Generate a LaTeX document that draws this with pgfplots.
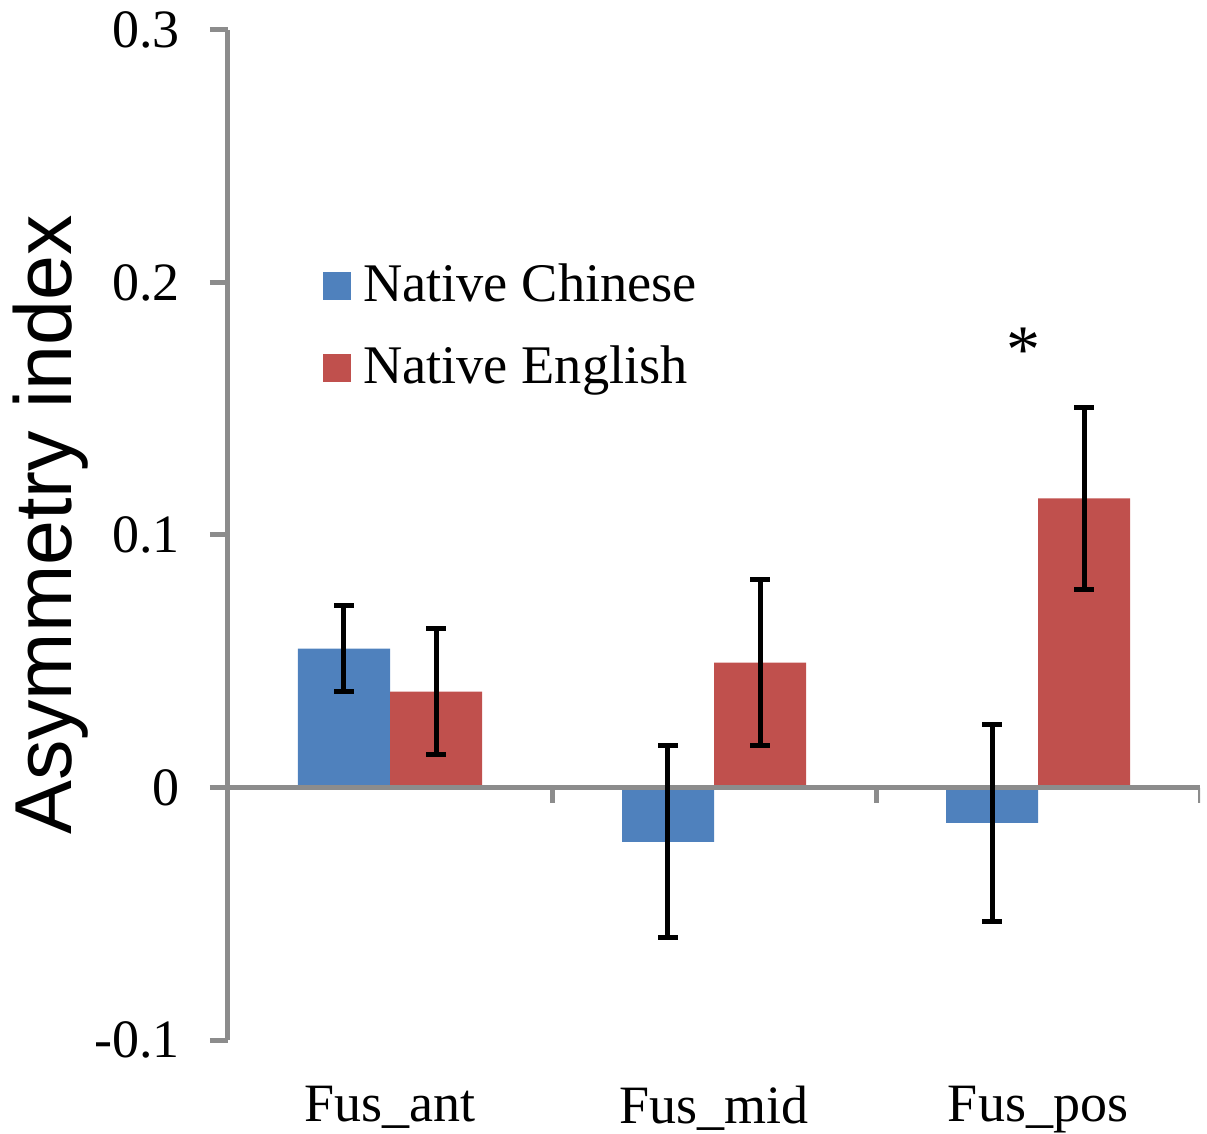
\documentclass[border=0pt]{standalone}
\usepackage{pgfplots}
\pgfplotsset{compat=1.18}
\usepackage{pgfplotstable}
\usepackage{fontspec}
\setmainfont{Liberation Serif}
\newfontfamily\arialfont{Liberation Sans}

\definecolor{cnblue}{RGB}{79,129,189}
\definecolor{enred}{RGB}{192,80,77}
\definecolor{axgray}{RGB}{140,140,140}

% asymmetry index per fusiform region, with error half-widths
\pgfplotstableread{
x   cn      cnerr   en      enerr
0   0.0550  0.0170  0.0380  0.0250
1  -0.0215  0.0380  0.0495  0.0330
2  -0.0140  0.0390  0.1145  0.0360
}\asym

\pgfplotsset{
  errstyle/.style={draw=none, mark=none, forget plot,
    error bars/.cd, y dir=both, y explicit,
    error bar style={black, line width=1.25pt, solid},
    error mark options={rotate=90, mark size=2.4pt, line width=1.25pt, black, solid}},
}

\begin{document}
\begin{tikzpicture}
\begin{axis}[
  name=ax,
  scale only axis, width=243pt, height=252.5pt,
  xmin=-0.5, xmax=2.5, ymin=-0.1, ymax=0.3,
  axis y line*=left, axis x line*=bottom,
  x axis line style={draw=none},
  y axis line style={axgray, line width=1.25pt},
  xtick={0,1,2}, xticklabels={Fus\_ant, Fus\_mid, Fus\_pos},
  xtick style={draw=none},
  ytick={-0.1,0,0.1,0.2,0.3}, yticklabels={-0.1,0,0.1,0.2,0.3},
  ytick style={axgray, line width=1.25pt},
  tick align=outside, major tick length=4.5pt,
  ticklabel style={font=\fontsize{13.5}{16}\selectfont, text=black},
  xticklabel style={yshift=-3.5pt},
  yticklabel style={xshift=-4pt},
  ylabel={Asymmetry index},
  ylabel style={at={(axis description cs:-0.183,0.51)}, anchor=center,
    font=\arialfont\fontsize{20.2}{24}\selectfont},
  legend style={at={(axis description cs:0.097,0.777)}, anchor=north west,
    draw=none, fill=none, inner sep=0pt, row sep=5.5pt,
    font=\fontsize{13.6}{16}\selectfont},
  legend cell align=left,
  legend image code/.code={\fill[#1] (0pt,-3.5pt) rectangle (7pt,3.5pt);},
]
\addplot[ybar, bar width=23pt, bar shift=-11.5pt, fill=cnblue, draw=none]
  table[x=x, y=cn]{\asym};
\addlegendentry{\hspace{1pt}Native Chinese}
\addplot[ybar, bar width=23pt, bar shift=11.5pt, fill=enred, draw=none]
  table[x=x, y=en]{\asym};
\addlegendentry{\hspace{1pt}Native English}

% zero line over the bars, with category separators
\draw[axgray, line width=1.25pt] (axis cs:-0.5,0) -- (axis cs:2.5,0);
\draw[axgray, line width=1.25pt] (axis cs:0.5,0) -- (axis cs:0.5,-0.006);
\draw[axgray, line width=1.25pt] (axis cs:1.5,0) -- (axis cs:1.5,-0.006);
\draw[axgray, line width=1.25pt] (axis cs:2.5,0) -- (axis cs:2.5,-0.006);

% error bars drawn last so they sit over the zero line (x at bar centres)
\addplot[errstyle] table[x expr=\thisrow{x}-0.142, y=cn, y error=cnerr]{\asym};
\addplot[errstyle] table[x expr=\thisrow{x}+0.142, y=en, y error=enerr]{\asym};

\node[font=\fontsize{17}{20}\selectfont] at (axis cs:1.954,0.173) {*};
\end{axis}
\pgfresetboundingbox
\path ([shift={(-57pt,-23.25pt)}]ax.south west) rectangle ([shift={(244.75pt,260pt)}]ax.south west);
\end{tikzpicture}
\end{document}
